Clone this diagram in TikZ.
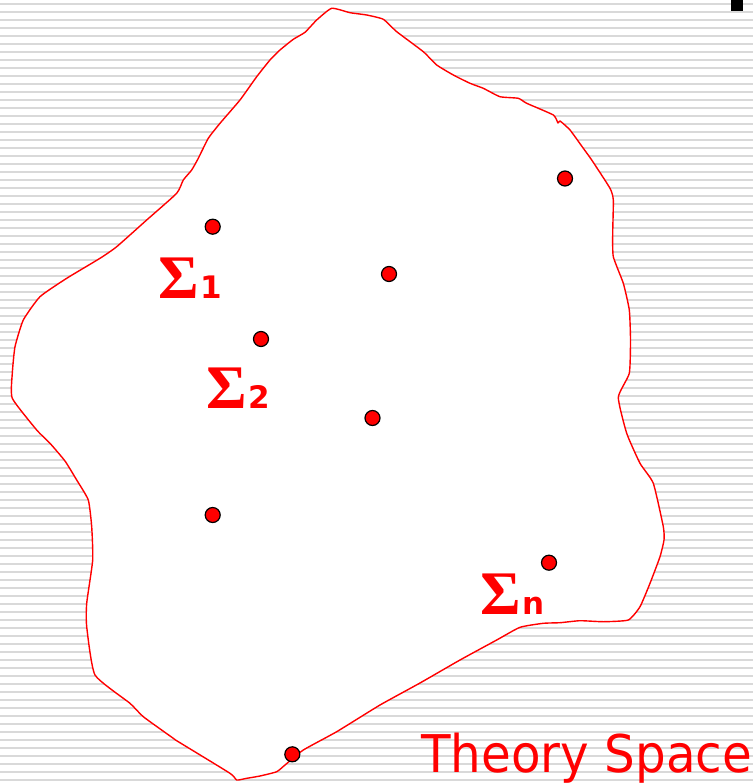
\documentclass[tikz,border=0pt]{standalone}
\usepackage{fontspec}
\newfontfamily\sigfont{Liberation Serif}[BoldFont={Liberation Serif Bold}]
\newfontfamily\subfont{DejaVu Sans}
\newfontfamily\tsfont[FakeStretch=0.93]{DejaVu Sans}
\definecolor{stripe}{HTML}{D9D9D9}
\definecolor{pred}{HTML}{FF0000}
\tikzset{
  pt/.style={circle, fill=pred, draw=black, line width=1.2pt, minimum size=15pt, inner sep=0pt},
  siglabel/.style={anchor=base west, inner sep=0pt, text=pred},
  blob/.style={draw=pred, fill=white, line width=1.4pt, line join=round}
}
\newcommand{\sigl}[1]{{\sigfont\bfseries\fontsize{62}{62}\selectfont\char"03A3}\kern2pt{\subfont\bfseries\fontsize{31}{31}\selectfont #1}}
\begin{document}
\begin{tikzpicture}[x=1pt,y=-1pt]
\useasboundingbox (0,0) rectangle (753,783);
\fill[white] (0,0) rectangle (753,783);
\foreach \k in {0,...,97} {
  \fill[stripe] (0,{2.6+8*\k}) rectangle (753,{4.6+8*\k});
}
\fill[black] (731,0) rectangle (742.5,11.5);
\draw[blob] plot[smooth cycle, tension=0.3] coordinates {
(331.7,8.3) (350,12.7) (366.7,15) (383.3,19.3) (396.7,31.7) (423.3,51.7) (436.7,65) (453.3,75) (470,83.3) (483.3,88.3) (500,96.7) (518.3,98.3) (526.7,103.3) (553.3,115) (558,123) (560,121) (570,130) (583.3,148.3) (591.7,160) (610,188.3) (613.3,200) (612.7,233.3) (613.3,256.7) (623.3,283.3) (629.3,310) (630.5,340) (629.3,373.3) (618.3,397.3) (626.7,433.3) (640,463.3) (653.3,483.3) (663.3,526.7) (664,540) (660,556.7) (650,583.3) (640,606.7) (628.3,620) (603.3,621.7) (580,620.7) (560,622.7) (543.3,623.3) (520,627.3) (496.7,640) (460,660) (420,683) (380,705) (336.7,731.7) (303.3,750) (285,765) (276.7,771.7) (260,776) (246.7,778.3) (236.7,780) (230,773.3) (178.3,741.7) (173.3,738.3) (143.3,716.7) (130,703.3) (95,675) (86.7,626.7) (86.7,603.3) (92.7,560) (91.7,526.7) (88.3,500) (76.7,480) (65,461) (50,443.3) (36.7,430) (12.3,398.3) (12.3,373.3) (15,346.7) (23.3,320) (40,296.7) (66.7,278.3) (100,258.3) (116.7,246.7) (146.7,220) (176.7,193.3) (183.3,180) (191.7,170) (198.3,158.3) (208.3,138.3) (220,123.3) (240,100) (256.7,76.7) (270,60) (280,50) (293.3,39.3) (305,32.3) (316.7,20)
};
\node[pt] (p1) at (212.7,226.7) {};
\node[pt] (p2) at (565,178.5) {};
\node[pt] (p3) at (389,274) {};
\node[pt] (p4) at (261,339) {};
\node[pt] (p5) at (372.5,418) {};
\node[pt] (p6) at (212.7,515) {};
\node[pt] (p7) at (549,562.7) {};
\node[pt] (p8) at (292.3,754.3) {};
\node[siglabel] (s1) at (158,298) {\sigl{1}};
\node[siglabel] (s2) at (206,408) {\sigl{2}};
\node[siglabel] (sn) at (480,614) {\sigl{n}};
\node[anchor=base west, inner sep=0pt, text=pred, font=\tsfont\fontsize{52}{52}\selectfont] (ts) at (421,772) {Theory Space};
\end{tikzpicture}
\end{document}
